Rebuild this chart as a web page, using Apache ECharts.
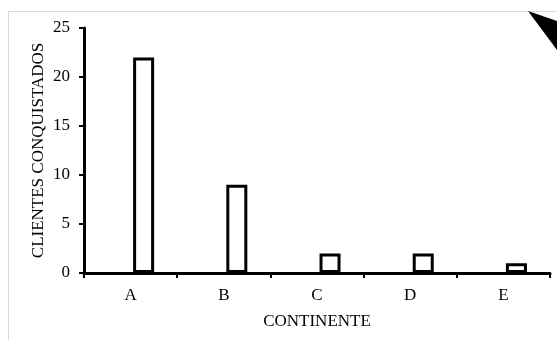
<!DOCTYPE html>
<html>
<head>
<meta charset="utf-8">
<style>html,body{margin:0;padding:0;background:#fff}#chart{width:557px;height:340px}</style>
<script src="https://cdn.jsdelivr.net/npm/echarts@6/dist/echarts.min.js"></script>
</head>
<body>
<div id="chart"></div>
<script>
const categories = ['A', 'B', 'C', 'D', 'E'];
const clientes = [22, 9, 2, 2, 1];
const spacer = [null, null, null, null, null];
const yTicks = [0, 5, 10, 15, 20, 25];

const chart = echarts.init(document.getElementById('chart'), null, { renderer: 'canvas' });
const font = '"Liberation Serif", "Times New Roman", serif';

chart.setOption({
  animation: false,
  backgroundColor: '#fff',
  graphic: [
    { type: 'rect', shape: { x: 8.5, y: 11.5, width: 600, height: 400 }, style: { fill: 'none', stroke: '#d9d9d9', lineWidth: 1 }, silent: true },
    { type: 'polygon', shape: { points: [[528, 11], [557, 21], [557, 50]] }, style: { fill: '#000' }, silent: true }
  ],
  grid: { left: 84, right: 7, top: 28, bottom: 67 },
  xAxis: {
    type: 'category',
    data: categories,
    name: 'CONTINENTE',
    nameLocation: 'middle',
    nameGap: 40,
    nameMoveOverlap: false,
    nameTextStyle: { fontFamily: font, fontSize: 17, color: '#000' },
    axisLine: { lineStyle: { color: '#000', width: 3 } },
    axisTick: { show: true, length: 5, lineStyle: { color: '#000', width: 2 } },
    axisLabel: { fontFamily: font, fontSize: 17, color: '#000', margin: 14 }
  },
  yAxis: {
    type: 'value',
    min: yTicks[0],
    max: yTicks[yTicks.length - 1],
    interval: 5,
    name: 'CLIENTES CONQUISTADOS',
    nameLocation: 'middle',
    nameGap: 37,
    nameRotate: 90,
    nameMoveOverlap: false,
    nameTextStyle: { fontFamily: font, fontSize: 17, color: '#000' },
    axisLine: { show: true, lineStyle: { color: '#000', width: 3 } },
    axisTick: { show: true, length: 5, lineStyle: { color: '#000', width: 2 } },
    axisLabel: { fontFamily: font, fontSize: 17, color: '#000', margin: 14 },
    splitLine: { show: false }
  },
  series: [
    {
      type: 'bar',
      data: spacer,
      barWidth: 21,
      barGap: '24%',
      itemStyle: { color: 'transparent' }
    },
    {
      type: 'bar',
      data: clientes,
      barWidth: 21,
      barGap: '24%',
      itemStyle: { color: '#fff', borderColor: '#000', borderWidth: 3 }
    }
  ]
});
</script>
</body>
</html>
